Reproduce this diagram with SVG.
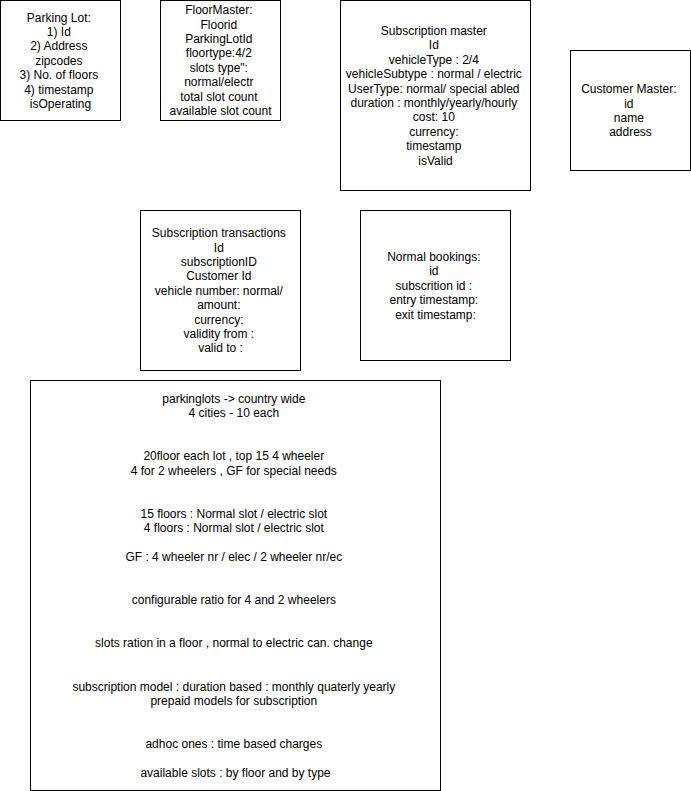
<svg xmlns="http://www.w3.org/2000/svg" width="691" height="791" viewBox="0 0 691 791">
  <style>
    .box { fill: #ffffff; stroke: #000000; stroke-width: 1; }
    .lbl { font-family: "Liberation Sans", Arial, Helvetica, sans-serif; font-size: 12px; fill: #000000; text-anchor: middle; }
  </style>
  <rect width="691" height="791" fill="#ffffff"/>

  <g id="parking-lot">
    <rect class="box" x="0.5" y="0.5" width="120" height="120"/>
    <text class="lbl">
      <tspan x="60.5" y="21.5">Parking Lot:</tspan>
      <tspan x="60.5" dy="14.4">1) Id</tspan>
      <tspan x="60.5" dy="14.4">2) Address</tspan>
      <tspan x="60.5" dy="14.4">zipcodes</tspan>
      <tspan x="60.5" dy="14.4">3) No. of floors</tspan>
      <tspan x="60.5" dy="14.4">4) timestamp</tspan>
      <tspan x="60.5" dy="14.4">isOperating</tspan>
    </text>
  </g>

  <g id="floor-master">
    <rect class="box" x="160.5" y="0.5" width="120" height="120"/>
    <text class="lbl">
      <tspan x="220.5" y="14.3">FloorMaster:</tspan>
      <tspan x="220.5" dy="14.4">Floorid</tspan>
      <tspan x="220.5" dy="14.4">ParkingLotId</tspan>
      <tspan x="220.5" dy="14.4">floortype:4/2</tspan>
      <tspan x="220.5" dy="14.4">slots type":</tspan>
      <tspan x="220.5" dy="14.4">normal/electr</tspan>
      <tspan x="220.5" dy="14.4">total slot count</tspan>
      <tspan x="220.5" dy="14.4">available slot count</tspan>
    </text>
  </g>

  <g id="subscription-master">
    <rect class="box" x="340.5" y="0.5" width="190" height="190"/>
    <text class="lbl">
      <tspan x="435.5" y="34.9">Subscription master</tspan>
      <tspan x="435.5" dy="14.4">Id</tspan>
      <tspan x="435.5" dy="14.4">vehicleType : 2/4</tspan>
      <tspan x="435.5" dy="14.4">vehicleSubtype : normal / electric</tspan>
      <tspan x="435.5" dy="14.4">UserType: normal/ special abled</tspan>
      <tspan x="435.5" dy="14.4">duration : monthly/yearly/hourly</tspan>
      <tspan x="435.5" dy="14.4">cost: 10</tspan>
      <tspan x="435.5" dy="14.4">currency:</tspan>
      <tspan x="435.5" dy="14.4">timestamp</tspan>
      <tspan x="435.5" dy="14.4">isValid</tspan>
    </text>
  </g>

  <g id="customer-master">
    <rect class="box" x="570.5" y="50.5" width="120" height="120"/>
    <text class="lbl">
      <tspan x="630.5" y="93.1">Customer Master:</tspan>
      <tspan x="630.5" dy="14.4">id</tspan>
      <tspan x="630.5" dy="14.4">name</tspan>
      <tspan x="630.5" dy="14.4">address</tspan>
    </text>
  </g>

  <g id="subscription-transactions">
    <rect class="box" x="140.5" y="210.5" width="160" height="160"/>
    <text class="lbl">
      <tspan x="220.5" y="237.1">Subscription transactions</tspan>
      <tspan x="220.5" dy="14.4">Id</tspan>
      <tspan x="220.5" dy="14.4">subscriptionID</tspan>
      <tspan x="220.5" dy="14.4">Customer Id</tspan>
      <tspan x="220.5" dy="14.4">vehicle number: normal/</tspan>
      <tspan x="220.5" dy="14.4">amount:</tspan>
      <tspan x="220.5" dy="14.4">currency:</tspan>
      <tspan x="220.5" dy="14.4">validity from :</tspan>
      <tspan x="220.5" dy="14.4">valid to :</tspan>
    </text>
  </g>

  <g id="normal-bookings">
    <rect class="box" x="360.5" y="210.5" width="150" height="150"/>
    <text class="lbl">
      <tspan x="435.5" y="260.9">Normal bookings:</tspan>
      <tspan x="435.5" dy="14.4">id</tspan>
      <tspan x="435.5" dy="14.4">subscrition id :</tspan>
      <tspan x="435.5" dy="14.4">entry timestamp:</tspan>
      <tspan x="435.5" dy="14.4">exit timestamp:</tspan>
    </text>
  </g>

  <g id="requirements-notes">
    <rect class="box" x="30.5" y="380.5" width="410" height="410"/>
    <text class="lbl">
      <tspan x="235.5" y="402.5">parkinglots -&gt; country wide</tspan>
      <tspan x="235.5" y="416.9">4 cities - 10 each</tspan>
      <tspan x="235.5" y="460.1">20floor each lot , top 15 4 wheeler</tspan>
      <tspan x="235.5" y="474.5">4 for 2 wheelers , GF for special needs</tspan>
      <tspan x="235.5" y="517.7">15 floors : Normal slot / electric slot</tspan>
      <tspan x="235.5" y="532.1">4 floors : Normal slot / electric slot</tspan>
      <tspan x="235.5" y="560.9">GF : 4 wheeler nr / elec / 2 wheeler nr/ec</tspan>
      <tspan x="235.5" y="604.1">configurable ratio for 4 and 2 wheelers</tspan>
      <tspan x="235.5" y="647.3">slots ration in a floor , normal to electric can. change</tspan>
      <tspan x="235.5" y="690.5">subscription model : duration based : monthly quaterly yearly</tspan>
      <tspan x="235.5" y="704.9">prepaid models for subscription</tspan>
      <tspan x="235.5" y="748.1">adhoc ones : time based charges</tspan>
      <tspan x="235.5" y="776.9">available slots : by floor and by type</tspan>
    </text>
  </g>

  <g id="connectors"/>
</svg>
